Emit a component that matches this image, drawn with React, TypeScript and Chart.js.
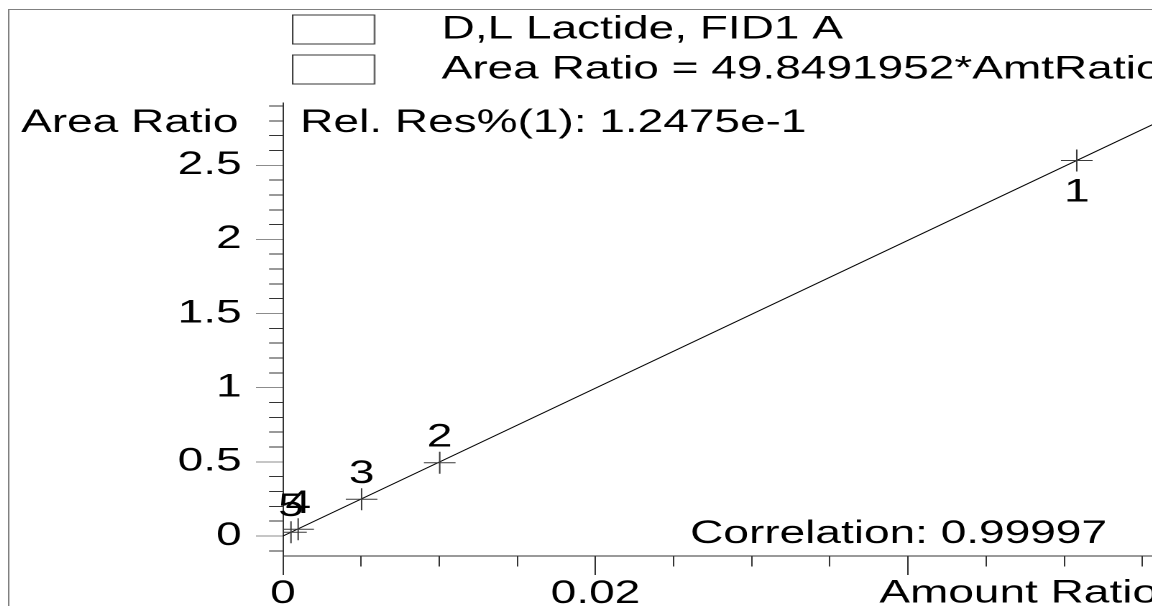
import React, { useEffect, useRef } from 'react';
import { Chart, registerables } from 'chart.js';

Chart.register(...registerables);

// ---------- data ----------
const seriesNames = ['D,L Lactide, FID1 A', 'Area Ratio = 49.8491952*AmtRatio'];
const pointLabels = ['1', '2', '3', '4', '5'];
const amountRatio = [0.0508, 0.01003, 0.00503, 0.00097, 0.00051];
const areaRatio = [2.532, 0.494, 0.248, 0.045, 0.025];
const fitAmount = [0, 0.056];
const fitArea = [0, 2.7916];
const xTickValues = [0, 0.02];
const xTickLabels = ['0', '0.02'];
const yTickValues = [0, 0.5, 1, 1.5, 2, 2.5];
const yTickLabels = ['0', '0.5', '1', '1.5', '2', '2.5'];
const xAxisTitle = 'Amount Ratio';
const yAxisTitle = 'Area Ratio';
const relResText = 'Rel. Res%(1): 1.2475e-1';
const correlationText = 'Correlation: 0.99997';

// ---------- layout / style ----------
const FONT = "'Liberation Sans', Arial, Helvetica, sans-serif";
const CANVAS_W = 800;
const CANVAS_H = 640;
const CSS_W = 1150;
const X_MIN = 0;
const X_MAX = 0.056;
const X_STEP = 0.005;
const X_MAJOR = 0.02;
const Y_MIN = -0.135;
const Y_MAX = 2.92;
const Y_STEP = 0.1;
const Y_MAJOR = 0.5;

const isMultiple = (v: number, step: number) => Math.abs(v / step - Math.round(v / step)) < 1e-6;
const labelFor = (v: number, values: number[], labels: string[]) => {
  const i = values.findIndex((t) => Math.abs(t - v) < 1e-9);
  return i >= 0 ? labels[i] : '';
};

const font32 = { family: FONT, size: 32 };

export default function App() {
  const ref = useRef<HTMLCanvasElement | null>(null);

  useEffect(() => {
    const prevOverflow = document.documentElement.style.overflow;
    document.documentElement.style.overflow = 'hidden';

    // legend box image (box on the left part, transparent on the right)
    const box = document.createElement('canvas');
    box.width = 90;
    box.height = 30;
    const bc = box.getContext('2d')!;
    bc.fillStyle = '#ffffff';
    bc.fillRect(0, 0, 58, 30);
    bc.strokeStyle = '#333333';
    bc.lineWidth = 1;
    bc.strokeRect(0.5, 0.5, 57, 29);

    const annotate = {
      id: 'annotate',
      afterDatasetsDraw(chart: any) {
        const { ctx, chartArea } = chart;
        ctx.save();
        ctx.fillStyle = '#000';
        ctx.font = `32px ${FONT}`;
        ctx.textBaseline = 'middle';
        ctx.textAlign = 'right';
        ctx.fillText(yAxisTitle, chartArea.left - 31, chartArea.top + 20);
        ctx.textAlign = 'left';
        ctx.fillText(relResText, chartArea.left + 12, chartArea.top + 20);
        ctx.textAlign = 'right';
        ctx.fillText(correlationText, chartArea.right - 35.5, chartArea.bottom - 22);
        ctx.textAlign = 'center';
        const meta = chart.getDatasetMeta(0);
        meta.data.forEach((el: any, i: number) => {
          const below = el.y < chartArea.top + chartArea.height * 0.2;
          ctx.fillText(pointLabels[i], el.x, below ? el.y + 32 : el.y - 25);
        });
        ctx.restore();
      },
      afterDraw(chart: any) {
        const { ctx } = chart;
        ctx.save();
        ctx.strokeStyle = '#808080';
        ctx.lineWidth = 1;
        ctx.strokeRect(0.5, 1.5, chart.width - 1, chart.height + 10);
        ctx.restore();
      },
    };

    const chart = new Chart(ref.current!, {
      type: 'scatter',
      data: {
        datasets: [
          {
            label: seriesNames[0],
            data: amountRatio.map((x, i) => ({ x, y: areaRatio[i] })),
            showLine: false,
            pointStyle: 'cross',
            pointRadius: 11,
            pointHoverRadius: 11,
            pointBorderColor: '#3a3a3a',
            pointBorderWidth: 1,
            borderColor: '#3a3a3a',
            backgroundColor: 'transparent',
            clip: 0,
          } as any,
          {
            label: seriesNames[1],
            data: fitAmount.map((x, i) => ({ x, y: fitArea[i] })),
            showLine: true,
            pointRadius: 0,
            pointHoverRadius: 0,
            borderColor: '#000',
            borderWidth: 1,
            backgroundColor: 'transparent',
            fill: false,
            clip: 0,
          } as any,
        ],
      },
      options: {
        animation: false,
        responsive: false,
        devicePixelRatio: 2,
        events: [],
        layout: {
          autoPadding: false,
          padding: { left: 0, right: 0, top: -2.5, bottom: 0 },
        },
        scales: {
          x: {
            type: 'linear',
            position: 'bottom',
            min: X_MIN,
            max: X_MAX,
            afterFit: (s: any) => {
              s.height = 92;
            },
            border: { display: true, color: '#333', width: 1 },
            grid: {
              drawOnChartArea: false,
              drawTicks: true,
              tickLength: 19,
              tickWidth: 1,
              tickColor: '#333',
              tickBorderDash: (c: any) =>
                c.tick && !isMultiple(c.tick.value, X_MAJOR) ? [10, 100] : [],
            },
            ticks: {
              stepSize: X_STEP,
              includeBounds: false,
              autoSkip: false,
              maxRotation: 0,
              minRotation: 0,
              padding: 0,
              color: '#000',
              font: font32,
              callback: (v: any) => labelFor(Number(v), xTickValues, xTickLabels),
            },
            title: {
              display: true,
              text: xAxisTitle,
              align: 'end',
              color: '#000',
              font: font32,
              padding: { top: 0, bottom: 35 },
            },
          } as any,
          y: {
            type: 'linear',
            position: 'left',
            min: Y_MIN,
            max: Y_MAX,
            afterFit: (s: any) => {
              s.width = 191.3;
            },
            border: { display: true, color: '#333', width: 1 },
            grid: {
              drawOnChartArea: false,
              drawTicks: true,
              tickLength: 18.8,
              tickWidth: 1,
              tickColor: (c: any) =>
                c.tick && isMultiple(c.tick.value, Y_MAJOR) ? '#8c8c8c' : '#333',
              tickBorderDash: (c: any) =>
                c.tick && !isMultiple(c.tick.value, Y_MAJOR) ? [0, 9.1, 60] : [],
            },
            ticks: {
              stepSize: Y_STEP,
              includeBounds: false,
              autoSkip: false,
              padding: 10,
              color: '#000',
              font: font32,
              callback: (v: any) => labelFor(Number(v), yTickValues, yTickLabels),
            },
          } as any,
        },
        plugins: {
          legend: {
            display: true,
            position: 'top',
            align: 'start',
            fullSize: false,
            labels: {
              usePointStyle: true,
              pointStyle: box as any,
              pointStyleWidth: 86.3,
              boxHeight: 32,
              padding: 8,
              color: '#000',
              font: font32,
            },
          } as any,
          title: {
            display: true,
            text: ' ',
            position: 'top',
            weight: 500,
            font: { size: 1, lineHeight: 1 },
            padding: { top: 0, bottom: 6.5 },
          } as any,
          tooltip: { enabled: false },
        },
      } as any,
      plugins: [annotate as any],
    });

    return () => {
      chart.destroy();
      document.documentElement.style.overflow = prevOverflow;
    };
  }, []);

  return (
    <canvas
      ref={ref}
      width={CANVAS_W}
      height={CANVAS_H}
      style={{ display: 'block', width: `${CSS_W}px`, height: `${CANVAS_H}px` }}
    />
  );
}
